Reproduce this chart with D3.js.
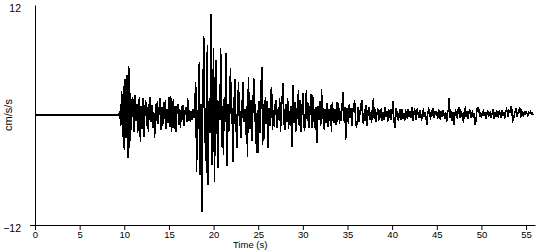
<!DOCTYPE html>
<html>
<head>
<meta charset="utf-8">
<script src="https://cdn.jsdelivr.net/npm/d3@7"></script>
<style>
  body { margin: 0; background: #fff; }
  text { font-family: "Liberation Sans", Arial, sans-serif; font-size: 11px; fill: #000; }
</style>
</head>
<body>
<div id="chart"></div>
<script>
const MAX_TIME = 56;
const MAX_ACC = 12;
const DT = 0.1;

let xTicks = [0, 5, 10, 15, 20, 25, 30, 35, 40, 45, 50, 55];
let yTicks = [-12, 12];

// quiet record before the first arrival
let quietTimes = [0, 9.4];
let quietValues = [0, 0];

// samples every DT seconds, each segment starts at its own time
let pWaveStart = 9.5;
let pWave = [0.4, -1.2, 2.6, -2.4, 3.2, -3.8, 3.9, -2.5, 4.4, -4.7, 5.3, -3.6, 2.4, -1.6, 2.0];

let coda1Start = 11.0;
let coda1 = [
  1.5, -1.8, 2.2, -0.6, 1.2, -2.0, 0.8, 2.0, -2.9, 1.0,
  -1.5, 1.8, -2.4, 0.5, 1.6, -1.2, 0.9, -1.9, 1.3, 2.0,
  -0.8, 1.1, -1.4, 0.3, -2.5, 1.2, -0.6, 1.5, -1.0, 0.6,
  1.8, -1.6, 0.9, -1.2, 1.4, -0.4, 1.6, -1.5, 0.7, -0.9,
  2.0, -1.3, 2.1, -1.8, 0.5, 1.7, -1.5, 1.0, -1.9, 0.8,
  1.2, -1.1, 0.6, -1.4, 1.0, -0.5, 1.1, -1.2, 0.4, 0.9,
  -0.8, 1.8, -0.6, 0.5, -0.8, 0.4, -0.5, 0.7, -0.3, 1.2
];

let sWaveStart = 18.0;
let sWave = [
  3.6, -6.2, 0.5, -1.5, 5.8, -6.5, 1.2, -10.6, 2.0, 8.6,
  -3.0, 0.8, -6.3, 7.6, -7.6, 1.5, -2.0, 11.0, -5.5, 0.5,
  7.3, -7.3, 1.0, 6.0, -1.5, -5.8, 1.5, -0.5, 7.3, -3.5,
  1.0, -4.4, 2.0, -0.8, 6.8, -5.6, 1.2, -1.8, 2.5, 5.1,
  -1.0, 0.8, -5.1, 1.5, 3.9, -0.6, -3.6, 0.9, 3.6, -1.2,
  0.4, -2.5, 1.3, 3.6, -0.8, 0.6, -2.2, 1.0, -4.6, 4.1,
  0.3, -1.5, 1.6, -2.8, 0.6, 4.0, -0.8, 1.2, -4.1, 0.5
];

let coda2Start = 25.0;
let coda2 = [
  -4.1, 1.5, -2.0, 2.8, 5.2, -3.3, 1.2, -2.6, 2.0, -1.0,
  1.5, -3.6, 0.8, -1.2, 2.4, 3.1, -1.6, 0.5, -1.3, 1.1,
  1.6, -1.4, 0.7, -0.5, 1.9, -1.8, 0.6, 2.2, 3.5, -1.0,
  -1.6, 1.2, -0.8, 1.9, -1.5, 0.4, -1.2, 1.0, -3.5, 3.3,
  -0.9, 1.4, -1.9, 0.8, -0.4, 2.7, -1.2, 1.6, -1.9, 0.6,
  2.4, -1.1, -1.7, 0.9, 2.7, -0.6, 1.3, -1.4, 0.5, 2.3,
  -1.4, 2.2, -0.8, 0.6, -1.6, 0.9, -3.0, 1.0, -0.5, 1.5,
  -1.2, 2.8, -0.4, 0.8, -1.6, 0.6, -0.9, 1.3, -1.3, 0.7,
  -0.6, 1.1, -1.8, 1.4, 0.2, -0.9, 0.7, -1.1, 1.4, -0.8,
  1.3, -1.0, 0.4, -0.6, 1.1, 2.5, -0.7, 0.9, -2.7, 0.8
];

let coda3Start = 35.0;
let coda3 = [
  0.4, -1.0, 1.2, -0.3, 0.8, -1.2, 0.5, 1.0, 1.6, -0.4,
  -1.4, -0.6, 0.9, -0.8, 0.3, 1.0, 1.6, -0.5, -1.0, 0.6,
  -0.7, 1.1, -1.2, 0.4, 0.9, -0.5, 0.3, -0.9, 1.0, 1.8,
  -0.4, 0.6, -0.8, 0.2, 0.7, -0.6, 0.5, -0.3, 0.8, -0.7,
  0.3, -0.5, 0.9, -0.2, 0.4, -0.8, 0.6, -0.3, 0.7, -0.5,
  0.5, 1.5, -0.6, -1.4, 0.8, -0.2, 0.4, -0.7, 0.3, 0.6,
  -0.5, 0.7, -0.4, 0.2, -0.7, 0.5, 0.3, -0.4, 0.6, -0.2,
  0.4, -0.3, 0.9, -0.7, -0.2, 0.6, 0.4, -0.5, 0.7, 0.1,
  -0.3, 0.5, 0.2, -0.6, 0.4, 0.6, -0.2, 0.3, -0.4, -1.1,
  0.2, 0.6, 0.3, -0.5, 0.5, 0.2, 0.7, -0.3, 0.4, 0.1
];

let tailStart = 45.0;
let tail = [
  0.3, -0.4, 0.6, 0.2, -0.5, 0.4, -0.2, 0.5, 0.1, -0.4,
  0.3, -0.8, 0.2, 0.6, 1.85, -0.3, 0.4, -0.6, 0.3, -1.1,
  -0.2, 0.5, 0.3, -0.4, 0.6, 0.9, -0.3, 0.4, 0.2, -0.5,
  -0.7, 0.6, 0.8, -0.2, 0.4, -0.4, 0.3, 0.5, -0.3, 0.2,
  0.4, -0.3, 0.2, -1.1, -0.5, 0.8, 0.5, 0.7, -0.2, 0.3,
  -0.3, 0.2, 0.4, -0.1, 0.3, -0.4, 0.2, 0.5, -0.2, 0.1,
  0.4, -0.3, 0.2, 0.6, -0.4, 0.3, -0.2, 0.5, 0.1, -0.3,
  0.4, 0.2, -0.3, 0.5, -0.1, 0.3, -0.4, 0.2, 0.6, 0.3,
  -0.2, 0.5, 0.4, 1.0, 0.6, -0.7, -0.5, 0.2, 0.4, 0.8,
  -0.2, 0.3, 0.5, 0.8, -0.3, 0.4, 0.2, -0.2, 0.3, 0.1,
  0.4, 0.2, -0.1, 0.3, 0.2, 0.4, 0.1, 0.2, 0.0
];

let margin = { "left": 35, "right": 15, "top": 5, "bottom": 25 };
let width = 550 - margin.left - margin.right;
let height = 250 - margin.top - margin.bottom;

// build [time, value] pairs
let points = quietTimes.map((t, i) => [t, quietValues[i]]);
[[pWaveStart, pWave], [coda1Start, coda1], [sWaveStart, sWave],
 [coda2Start, coda2], [coda3Start, coda3], [tailStart, tail]].forEach(seg => {
  seg[1].forEach((v, i) => points.push([+(seg[0] + i * DT).toFixed(2), v]));
});

let svg = d3.select("#chart")
  .append("svg")
  .attr("width", 550)
  .attr("height", 250)
  .append("g")
  .attr("transform", "translate(" + margin.left + "," + margin.top + ")");

let x = d3.scaleLinear().domain([0, MAX_TIME]).range([0, width]);
let y = d3.scaleLinear().domain([-MAX_ACC, MAX_ACC]).range([height, 0]);

let xAxis = svg.append("g")
  .attr("transform", "translate(0," + height + ")")
  .call(d3.axisBottom(x).tickValues(xTicks).tickSize(5).tickSizeOuter(0).tickPadding(1));

let yAxis = svg.append("g")
  .call(d3.axisLeft(y).tickValues(yTicks).tickSize(5).tickSizeOuter(0).tickPadding(11));

[xAxis, yAxis].forEach(a => {
  a.selectAll("path, line").attr("stroke", "#000");
  a.selectAll("text").attr("fill", "#000").style("font-size", "9.5px")
    .style("font-family", "'Liberation Sans', Arial, sans-serif");
});
// no tick mark at the top, labels sit a little below their value
yAxis.selectAll(".tick").filter(d => d > 0).select("line").remove();
yAxis.selectAll(".tick text").attr("dy", "0.62em").attr("x", -14).style("font-size", "10.5px");

svg.append("path")
  .datum(points)
  .attr("fill", "none")
  .attr("stroke", "#000")
  .attr("stroke-width", 1.5)
  .attr("shape-rendering", "crispEdges")
  .attr("d", d3.line().x(d => x(d[0])).y(d => y(d[1])));

svg.append("text")
  .attr("transform", `translate(${-23}, ${height / 2})rotate(-90)`)
  .style("text-anchor", "middle")
  .text("cm/s/s");

svg.append("text")
  .attr("x", x(24.1))
  .attr("y", height + 23)
  .style("text-anchor", "middle")
  .style("font-size", "9.5px")
  .text("Time (s)");
</script>
</body>
</html>
